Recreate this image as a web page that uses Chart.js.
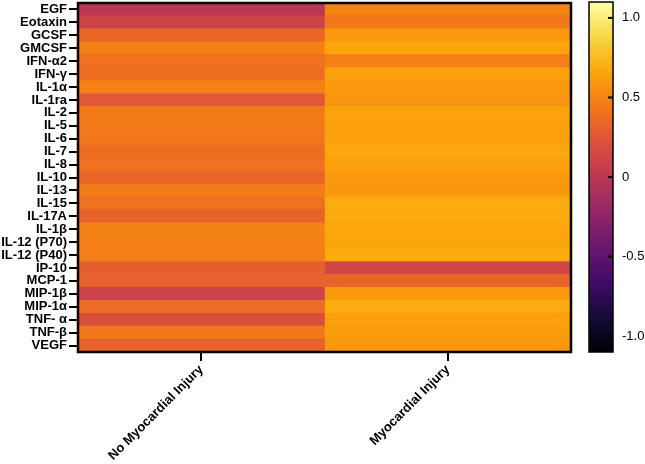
<!DOCTYPE html>
<html>
<head>
<meta charset="utf-8">
<script src="https://cdn.jsdelivr.net/npm/chart.js@4"></script>
<style>
  body { margin: 0; background: #fff; }
  #wrap { position: relative; width: 645px; height: 464px; }
  #heat { position: absolute; left: 0; top: 0; }
  #bar { position: absolute; left: 560px; top: 0; }
</style>
</head>
<body>
<div id="wrap">
  <canvas id="heat" width="645" height="464"></canvas>
  <canvas id="bar" width="85" height="464"></canvas>
</div>
<script>
// cytokines (rows) and groups (columns)
const cytokines = ["EGF", "Eotaxin", "GCSF", "GMCSF", "IFN-α2", "IFN-γ", "IL-1α", "IL-1ra",
  "IL-2", "IL-5", "IL-6", "IL-7", "IL-8", "IL-10", "IL-13", "IL-15", "IL-17A", "IL-1β",
  "IL-12 (P70)", "IL-12 (P40)", "IP-10", "MCP-1", "MIP-1β", "MIP-1α", "TNF- α", "TNF-β", "VEGF"];
const groups = ["No Myocardial Injury", "Myocardial Injury"];

// correlation values
const noInjury = [0.0, 0.11, 0.35, 0.48, 0.40, 0.38, 0.48, 0.26, 0.45, 0.45, 0.43, 0.38, 0.40,
  0.34, 0.46, 0.40, 0.32, 0.49, 0.48, 0.47, 0.30, 0.32, 0.10, 0.37, 0.20, 0.44, 0.32];
const injury = [0.50, 0.44, 0.60, 0.66, 0.47, 0.64, 0.60, 0.58, 0.65, 0.63, 0.64, 0.67, 0.63,
  0.60, 0.59, 0.68, 0.68, 0.67, 0.66, 0.68, 0.13, 0.33, 0.60, 0.68, 0.63, 0.62, 0.59];

const scaleMin = -1.1, scaleMax = 1.1;
const barTicks = [1.0, 0.5, 0, -0.5, -1.0];
const barTickLabels = ["1.0", "0.5", "0", "-0.5", "-1.0"];

// inferno colormap stops
const inferno = ["#000004", "#160b39", "#420a68", "#6a176e", "#932667", "#bc3754",
  "#dd513a", "#f37819", "#fca50a", "#f6d746", "#fcffa4"];

function hex(h) {
  return [parseInt(h.slice(1, 3), 16), parseInt(h.slice(3, 5), 16), parseInt(h.slice(5, 7), 16)];
}
function colorFor(v) {
  let t = (v - scaleMin) / (scaleMax - scaleMin);
  t = Math.max(0, Math.min(1, t)) * (inferno.length - 1);
  let i = Math.min(Math.floor(t), inferno.length - 2);
  let f = t - i;
  let a = hex(inferno[i]), b = hex(inferno[i + 1]);
  let c = a.map((x, k) => Math.round(x + (b[k] - x) * f));
  return "rgb(" + c.join(",") + ")";
}

const font = "'Liberation Sans', Arial, sans-serif";

// no extra room for overhanging labels, the padding below sets the box
function noPad(ax) {
  ax.paddingTop = 0; ax.paddingBottom = 0; ax.paddingLeft = 0; ax.paddingRight = 0;
}

const frame = {
  id: "frame",
  afterDraw(chart) {
    const a = chart.chartArea, c = chart.ctx;
    c.save();
    c.strokeStyle = "#000";
    c.lineWidth = 2.5;
    c.strokeRect(a.left, a.top, a.right - a.left, a.bottom - a.top);
    c.restore();
  }
};

new Chart(document.getElementById("heat"), {
  type: "bar",
  data: {
    labels: cytokines,
    datasets: [
      { label: groups[0], data: cytokines.map(() => [0, 1]), backgroundColor: noInjury.map(colorFor) },
      { label: groups[1], data: cytokines.map(() => [1, 2]), backgroundColor: injury.map(colorFor) }
    ]
  },
  options: {
    indexAxis: "y",
    responsive: false,
    animation: false,
    layout: { padding: { top: 3, right: 74, left: 0, bottom: 0 } },
    datasets: { bar: { barPercentage: 1, categoryPercentage: 1, grouped: false, borderWidth: 0 } },
    plugins: { legend: { display: false }, tooltip: { enabled: false } },
    scales: {
      x: {
        type: "linear", min: 0, max: 2,
        afterBuildTicks: (ax) => { ax.ticks = [{ value: 0.5 }, { value: 1.5 }]; },
        afterFit: (ax) => { ax.height = 112; noPad(ax); },
        ticks: {
          callback: (v) => groups[v < 1 ? 0 : 1],
          minRotation: 45, maxRotation: 45, padding: 1,
          color: "#000", font: { family: font, size: 13, weight: "bold" }
        },
        grid: { drawOnChartArea: false, drawTicks: true, tickLength: 9, lineWidth: 2, color: "#000" },
        border: { display: true, color: "#000", width: 2 }
      },
      y: {
        afterFit: (ax) => { ax.width = 78; noPad(ax); },
        ticks: { padding: 2, color: "#000", autoSkip: false, font: { family: font, size: 13, weight: "bold" } },
        grid: { offset: false, drawOnChartArea: false, drawTicks: true, tickLength: 9, lineWidth: 2, color: "#000" },
        border: { display: true, color: "#000", width: 2 }
      }
    }
  },
  plugins: [frame]
});

// colour bar
const barMarks = {
  id: "barMarks",
  afterDraw(chart) {
    const a = chart.chartArea, c = chart.ctx, y = chart.scales.y;
    c.save();
    c.strokeStyle = "#000";
    c.lineWidth = 2;
    barTicks.forEach((v) => {
      const p = y.getPixelForValue(v);
      c.beginPath();
      c.moveTo(a.right - 5, p);
      c.lineTo(a.right, p);
      c.stroke();
    });
    c.lineWidth = 1.5;
    c.strokeRect(a.left, a.top, a.right - a.left, a.bottom - a.top);
    c.restore();
  }
};

new Chart(document.getElementById("bar"), {
  type: "bar",
  data: {
    labels: [""],
    datasets: [{
      data: [[scaleMin, scaleMax]],
      borderWidth: 0,
      barPercentage: 1, categoryPercentage: 1,
      backgroundColor: (ctx) => {
        const ch = ctx.chart, y = ch.scales.y;
        if (!ch.chartArea || !y) return "#000";
        const g = ch.ctx.createLinearGradient(0, y.getPixelForValue(scaleMin), 0, y.getPixelForValue(scaleMax));
        inferno.forEach((col, i) => g.addColorStop(i / (inferno.length - 1), col));
        return g;
      }
    }]
  },
  options: {
    responsive: false,
    animation: false,
    layout: { padding: { top: 2, bottom: 112, left: 29, right: 0 } },
    plugins: { legend: { display: false }, tooltip: { enabled: false } },
    scales: {
      x: { display: false },
      y: {
        position: "right", min: scaleMin, max: scaleMax,
        afterBuildTicks: (ax) => { ax.ticks = barTicks.map((v) => ({ value: v })); },
        afterFit: (ax) => { ax.width = 32; noPad(ax); },
        ticks: {
          callback: (v) => barTickLabels[barTicks.indexOf(v)],
          padding: 9, color: "#000", font: { family: font, size: 13 }
        },
        grid: { display: false, drawTicks: false },
        border: { display: false }
      }
    }
  },
  plugins: [barMarks]
});
</script>
</body>
</html>
